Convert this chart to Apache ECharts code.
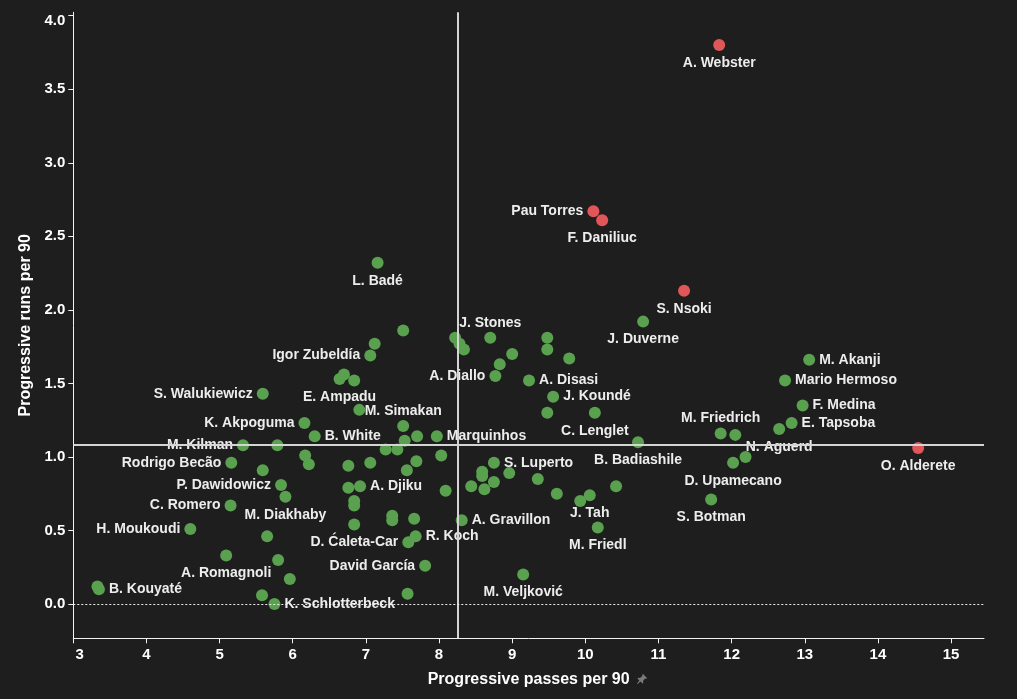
<!DOCTYPE html>
<html><head><meta charset="utf-8">
<script src="https://cdn.jsdelivr.net/npm/echarts@6/dist/echarts.min.js"></script>
<style>html,body{margin:0;padding:0;background:#1e1e1e}#c{width:1017px;height:699px}</style>
</head><body><div id="c"></div>
<script>
// ---- data ----
const redNames  = ['A. Webster','Pau Torres','F. Daniliuc','S. Nsoki','O. Alderete'];
const redPasses = [11.83, 10.11, 10.23, 11.35, 14.55];
const redRuns   = [3.80, 2.67, 2.61, 2.13, 1.06];

const names = ['L. Badé','J. Duverne','M. Akanji','Mario Hermoso','F. Medina','E. Tapsoba','N. Aguerd','M. Friedrich','',
 'D. Upamecano','','S. Botman','B. Badiashile','C. Lenglet','J. Koundé','A. Disasi','A. Diallo','J. Stones',
 '','','','','','','','','',
 '','','Igor Zubeldía','','E. Ampadu','','','S. Walukiewicz','K. Akpoguma','B. White','M. Simakan','Marquinhos',
 '','','','','','','','','',
 'M. Kilman','','','','Rodrigo Becão','','P. Dawidowicz','M. Diakhaby','C. Romero','H. Moukoudi','','A. Romagnoli',
 '','','','B. Kouyaté','','K. Schlotterbeck',
 'S. Luperto','','','','','','','','','','J. Tah','',
 'A. Djiku','','','','','','','','','A. Gravillon','R. Koch','D. Ćaleta-Car','David García','','M. Veljković','M. Friedl'];
const passes = [7.16,10.79,13.06,12.73,12.97,12.82,12.65,11.85,12.05,
 12.02,12.19,11.72,10.72,10.13,9.56,9.23,8.77,8.70,
 8.22,8.28,8.34,9.48,9.48,9.00,8.83,9.78,9.48,
 7.51,7.12,7.06,6.70,6.64,6.84,6.91,5.59,6.16,6.30,7.51,7.97,
 7.53,7.70,7.27,7.43,6.76,7.06,7.69,7.56,8.03,
 5.32,5.79,6.17,6.22,5.16,5.59,5.84,5.90,5.15,4.60,5.65,5.09,
 5.80,5.96,3.33,3.35,5.58,5.75,
 8.75,8.59,8.59,8.96,9.35,8.75,8.44,8.62,10.42,9.61,10.06,9.93,
 6.92,6.76,8.09,6.84,6.84,7.36,7.36,7.66,6.84,8.31,7.68,7.58,7.81,7.57,9.15,10.17];
const runs = [2.32,1.92,1.66,1.52,1.35,1.23,1.19,1.16,1.15,
 0.96,1.00,0.71,1.10,1.30,1.41,1.52,1.55,1.81,
 1.81,1.77,1.73,1.81,1.73,1.70,1.63,1.67,1.30,
 1.86,1.77,1.69,1.56,1.53,1.52,1.32,1.43,1.23,1.14,1.21,1.14,
 1.11,1.14,1.05,1.05,0.94,0.96,0.97,0.91,1.01,
 1.08,1.08,1.01,0.95,0.96,0.91,0.81,0.73,0.67,0.51,0.46,0.33,
 0.30,0.17,0.12,0.10,0.06,0.00,
 0.96,0.90,0.87,0.89,0.85,0.83,0.80,0.78,0.80,0.75,0.74,0.70,
 0.80,0.79,0.77,0.70,0.67,0.60,0.57,0.58,0.54,0.57,0.46,0.42,0.26,0.07,0.20,0.52];
const meanPasses = 8.25;
const meanRuns = 1.083;
const xTickValues = [3,4,5,6,7,8,9,10,11,12,13,14,15];
const yTickValues = [0,0.5,1,1.5,2,2.5,3,3.5,4];

// ---- label placement (style) ----
const place = {
 'A. Webster':['bottom'],'F. Daniliuc':['bottom'],'S. Nsoki':['bottom'],'J. Duverne':['bottom'],'O. Alderete':['bottom'],
 'D. Upamecano':['bottom'],'S. Botman':['bottom'],'B. Badiashile':['bottom'],'C. Lenglet':['bottom'],'E. Ampadu':['bottom'],
 'M. Diakhaby':['bottom'],'A. Romagnoli':['bottom'],'M. Veljković':['bottom'],'M. Friedl':['bottom'],'L. Badé':['bottom'],
 'N. Aguerd':['bottom',33,0],'J. Tah':['bottom',21,0],
 'J. Stones':['top'],'M. Friedrich':['top',-25,0],'M. Simakan':['top',38,0],
 'Pau Torres':['left'],'A. Diallo':['left'],'Igor Zubeldía':['left'],'S. Walukiewicz':['left'],'K. Akpoguma':['left'],
 'M. Kilman':['left'],'Rodrigo Becão':['left'],'C. Romero':['left'],'H. Moukoudi':['left'],'D. Ćaleta-Car':['left'],
 'David García':['left'],'P. Dawidowicz':['left',-7,0],
 'M. Akanji':['right'],'Mario Hermoso':['right'],'F. Medina':['right'],'E. Tapsoba':['right'],'J. Koundé':['right'],
 'A. Disasi':['right'],'Marquinhos':['right'],'B. Kouyaté':['right'],'K. Schlotterbeck':['right'],'R. Koch':['right'],
 'A. Gravillon':['right'],'A. Djiku':['right'],'B. White':['right',6,-3],'S. Luperto':['right',6,-4]
};
const FONT = '"Liberation Sans", Arial, Helvetica, sans-serif';
const DIST = { top: 2, bottom: 5, left: 4, right: 4 };

function build(ns, xs, ys) {
  return ns.map((n, i) => {
    const item = { name: n, value: [xs[i], ys[i]] };
    const p = place[n];
    if (n && p) {
      item.label = {
        show: true, position: p[0], distance: DIST[p[0]],
        offset: [p[1] || 0, (p[2] || 0) + 1], formatter: '{b}'
      };
    } else {
      item.label = { show: false };
    }
    return item;
  });
}

const labelStyle = { color: '#ededed', fontSize: 14, fontWeight: 'bold', fontFamily: FONT };
const axisTxt = { color: '#ffffff', fontSize: 15, fontWeight: 'bold', fontFamily: FONT };

const chart = echarts.init(document.getElementById('c'));
chart.setOption({
  backgroundColor: '#1e1e1e',
  animation: false,
  grid: { left: 73.3, right: 33, top: 12.3, bottom: 60.7 },
  xAxis: {
    type: 'value', min: 3, max: 15.45, interval: 1,
    name: 'Progressive passes per 90', nameLocation: 'middle', nameGap: 33,
    nameTextStyle: { color: '#ffffff', fontSize: 16, fontWeight: 'bold', fontFamily: FONT },
    axisLine: { show: true, onZero: false, lineStyle: { color: '#f2f2f2', width: 1 } },
    axisTick: { show: true, length: 5, customValues: xTickValues, lineStyle: { color: '#f2f2f2' } },
    splitLine: { show: false },
    axisLabel: Object.assign({ margin: 9, customValues: xTickValues, formatter: v => {
      if (!xTickValues.includes(v)) return '';
      return v === xTickValues[0] ? '   ' + v : String(v);
    } }, axisTxt)
  },
  yAxis: {
    type: 'value', min: -0.233, max: 4.023, splitNumber: 8,
    name: 'Progressive runs per 90', nameLocation: 'middle', nameGap: 36,
    nameTextStyle: { color: '#ffffff', fontSize: 16, fontWeight: 'bold', fontFamily: FONT },
    axisLine: { show: true, onZero: false, lineStyle: { color: '#f2f2f2', width: 1 } },
    axisTick: { show: true, length: 5, customValues: yTickValues, lineStyle: { color: '#f2f2f2' } },
    splitLine: { show: false },
    axisLabel: Object.assign({ margin: 8, lineHeight: 10, customValues: yTickValues, formatter: v => {
      const hit = yTickValues.find(t => Math.abs(t - v) < 1e-6);
      if (hit === undefined) return '';
      const s = hit.toFixed(1);
      return hit === yTickValues[yTickValues.length - 1] ? '\n' + s : s;
    } }, axisTxt)
  },
  graphic: [{
    type: 'polygon', z: 10, silent: true,
    shape: { points: [[643,674],[647,678],[646,679],[645,678.5],[643,681],[643.3,683],[642.5,683.5],[640.6,681.6],[637.6,684],[637,683.4],[639.4,680.4],[637.5,678.5],[638,677.7],[640,678],[642.5,675.8],[642,675]] },
    style: { fill: '#7a7a7a' }
  }],
  series: [
    {
      type: 'line', data: [], z: 1, silent: true,
      markLine: {
        silent: true, symbol: 'none', animation: false, label: { show: false },
        data: [
          { xAxis: meanPasses, lineStyle: { color: '#d4d4d4', width: 2, type: 'solid' } },
          { yAxis: meanRuns, lineStyle: { color: '#d4d4d4', width: 2, type: 'solid' } },
          { yAxis: 0, lineStyle: { color: '#f0f0f0', width: 1, type: [2, 2] } }
        ]
      }
    },
    {
      type: 'scatter', z: 3, symbol: 'circle', symbolSize: 12,
      itemStyle: { color: '#59a14f', opacity: 1 },
      label: labelStyle,
      labelLayout: { hideOverlap: false },
      data: build(names, passes, runs)
    },
    {
      type: 'scatter', z: 4, symbol: 'circle', symbolSize: 12,
      itemStyle: { color: '#e15759', opacity: 1 },
      label: labelStyle,
      labelLayout: { hideOverlap: false },
      data: build(redNames, redPasses, redRuns)
    }
  ]
});
</script></body></html>
